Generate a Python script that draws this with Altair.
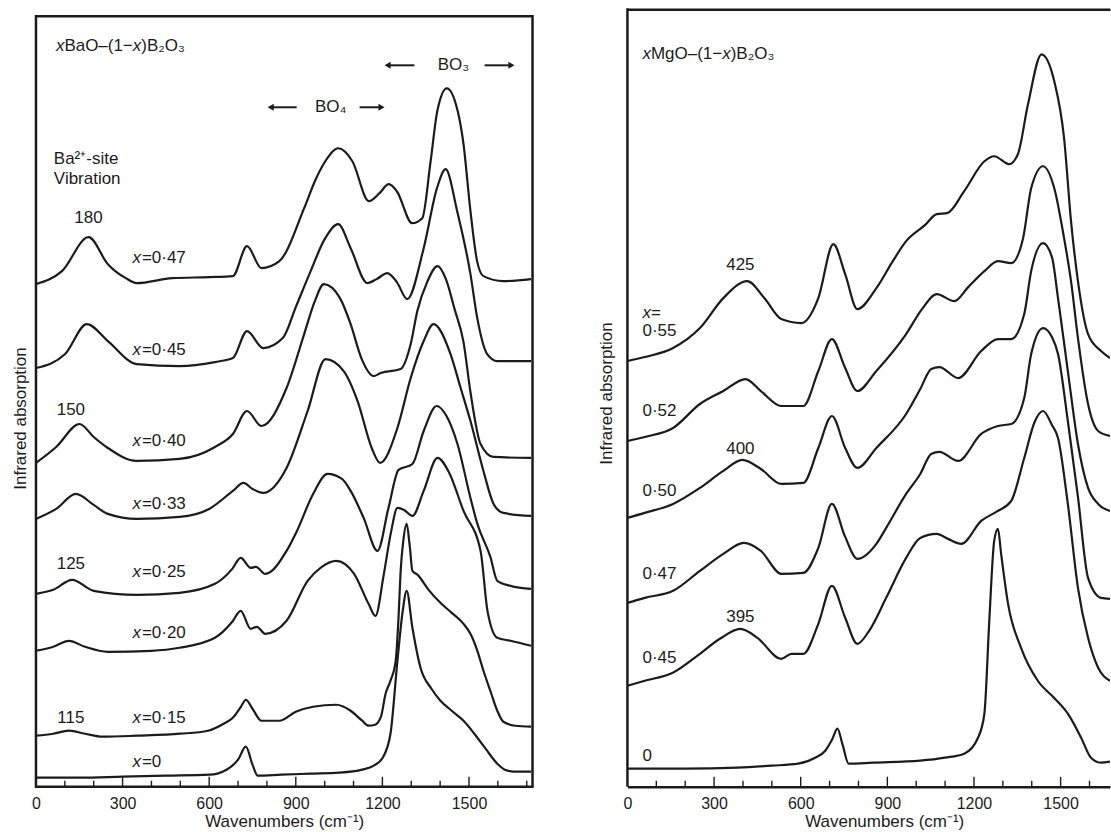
import altair as alt
import pandas as pd

FONT = "Liberation Sans"
INK = "#1b1b1b"
FS = 17
LFS = 16
TFS = 17

# ---------------- Left panel: xBaO-(1-x)B2O3 (stacked IR spectra, arbitrary units) ----------------
BA_X0_WN = [0, 150, 300, 450, 600, 660, 700, 727, 750, 768, 850, 950, 1050, 1130, 1170, 1201, 1228, 1252, 1270, 1284, 1304, 1332, 1370, 1401, 1440, 1481, 1529, 1560, 1598, 1633, 1670, 1715]
BA_X0_A = [9, 9, 10, 11, 12, 17, 27, 40, 22, 11, 12, 13, 14, 17, 21, 29, 53, 126, 175, 196, 159, 119, 98, 86, 76, 66, 49, 37, 23, 16, 15, 15]

BA_X15_WN = [0, 60, 114, 170, 230, 350, 500, 596, 650, 682, 710, 727, 750, 781, 843, 900, 960, 1040, 1090, 1130, 1152, 1175, 1195, 1211, 1228, 1246, 1256, 1263, 1272, 1284, 1295, 1304, 1322, 1360, 1401, 1440, 1481, 1505, 1530, 1550, 1575, 1598, 1619, 1660, 1715]
BA_X15_A = [51, 53, 56, 53, 50, 51, 53, 56, 63, 69, 80, 87, 78, 66, 66, 75, 80, 82, 76, 66, 61, 62, 70, 93, 106, 126, 170, 215, 245, 263, 240, 216, 212, 197, 184, 174, 163, 153, 135, 116, 95, 76, 65, 61, 60]

BA_X20_WN = [0, 60, 114, 170, 249, 400, 497, 620, 680, 709, 744, 765, 794, 868, 941, 990, 1040, 1102, 1152, 1176, 1204, 1230, 1252, 1275, 1304, 1343, 1391, 1430, 1481, 1540, 1564, 1598, 1644, 1715]
BA_X20_A = [136, 140, 146, 140, 135, 136, 139, 149, 165, 176, 158, 160, 153, 166, 206, 220, 226, 213, 183, 171, 211, 255, 279, 277, 271, 296, 329, 315, 276, 236, 176, 149, 146, 141]

BA_X25_WN = [0, 60, 125, 200, 349, 497, 620, 680, 709, 744, 762, 794, 868, 904, 960, 1010, 1060, 1090, 1135, 1183, 1221, 1256, 1304, 1343, 1388, 1420, 1460, 1505, 1529, 1574, 1598, 1644, 1715]
BA_X25_A = [193, 197, 207, 196, 192, 194, 203, 218, 229, 219, 220, 213, 236, 256, 293, 313, 308, 296, 269, 236, 279, 317, 323, 356, 381, 372, 343, 289, 263, 230, 206, 201, 198]

BA_X33_WN = [0, 70, 138, 200, 249, 349, 497, 600, 682, 719, 750, 787, 868, 941, 1003, 1066, 1114, 1163, 1192, 1252, 1298, 1343, 1377, 1436, 1470, 1505, 1550, 1585, 1619, 1715]
BA_X33_A = [268, 278, 293, 282, 273, 268, 270, 278, 296, 304, 298, 294, 319, 376, 428, 416, 386, 339, 324, 359, 409, 446, 463, 433, 400, 366, 316, 283, 274, 271]

BA_X40_WN = [0, 70, 151, 200, 249, 349, 497, 620, 682, 731, 781, 868, 929, 966, 997, 1053, 1090, 1127, 1170, 1194, 1263, 1298, 1321, 1355, 1391, 1420, 1450, 1481, 1505, 1540, 1585, 1715]
BA_X40_A = [324, 340, 363, 350, 339, 326, 328, 340, 353, 376, 361, 399, 453, 486, 503, 489, 463, 429, 411, 414, 418, 443, 476, 505, 521, 508, 478, 445, 395, 343, 330, 329]

BA_X45_WN = [0, 101, 176, 249, 349, 497, 620, 682, 731, 787, 855, 900, 950, 1000, 1047, 1090, 1148, 1180, 1217, 1250, 1286, 1343, 1390, 1419, 1459, 1505, 1528, 1563, 1598, 1715]
BA_X45_A = [419, 433, 463, 446, 423, 421, 425, 429, 456, 439, 449, 480, 515, 548, 563, 539, 504, 508, 514, 505, 488, 539, 600, 618, 576, 513, 470, 433, 426, 426]

BA_X47_WN = [0, 90, 182, 249, 311, 349, 472, 600, 682, 731, 781, 843, 929, 966, 1000, 1047, 1096, 1153, 1190, 1222, 1250, 1303, 1338, 1367, 1390, 1423, 1461, 1481, 1505, 1528, 1550, 1619, 1715]
BA_X47_A = [503, 516, 550, 523, 509, 504, 509, 510, 511, 541, 519, 526, 579, 606, 625, 639, 626, 586, 594, 603, 596, 564, 569, 626, 676, 699, 676, 643, 576, 526, 511, 506, 508]

BA_SERIES = [
    ("0", BA_X0_WN, BA_X0_A), ("0.15", BA_X15_WN, BA_X15_A), ("0.20", BA_X20_WN, BA_X20_A),
    ("0.25", BA_X25_WN, BA_X25_A), ("0.33", BA_X33_WN, BA_X33_A), ("0.40", BA_X40_WN, BA_X40_A),
    ("0.45", BA_X45_WN, BA_X45_A), ("0.47", BA_X47_WN, BA_X47_A),
]

# ---------------- Right panel: xMgO-(1-x)B2O3 ----------------
MG_X0_WN = [0, 200, 381, 500, 591, 650, 685, 710, 727, 745, 766, 850, 1014, 1100, 1166, 1214, 1236, 1253, 1270, 1283, 1294, 1318, 1363, 1421, 1477, 1525, 1571, 1605, 1640, 1671]
MG_X0_A = [18, 18, 19, 21, 23, 29, 36, 48, 58, 42, 23, 24, 26, 29, 33, 49, 73, 166, 246, 258, 233, 183, 139, 106, 89, 73, 49, 29, 24, 25]

MG_X45_WN = [0, 60, 157, 251, 320, 391, 450, 532, 568, 609, 661, 708, 754, 796, 837, 896, 965, 1014, 1071, 1110, 1156, 1225, 1283, 1329, 1374, 1410, 1439, 1470, 1491, 1525, 1560, 1595, 1630, 1671]
MG_X45_A = [101, 106, 114, 133, 148, 158, 149, 128, 133, 133, 163, 201, 169, 143, 156, 189, 229, 249, 253, 248, 243, 266, 276, 286, 329, 365, 376, 362, 349, 283, 199, 149, 119, 106]

MG_X47_WN = [0, 60, 158, 251, 332, 403, 462, 533, 609, 661, 708, 754, 796, 862, 896, 965, 1014, 1052, 1080, 1145, 1225, 1283, 1329, 1374, 1398, 1439, 1470, 1491, 1525, 1560, 1595, 1640, 1671]
MG_X47_A = [184, 189, 196, 216, 233, 244, 236, 213, 214, 239, 283, 250, 228, 243, 259, 293, 313, 333, 335, 326, 353, 361, 363, 389, 433, 459, 450, 433, 366, 290, 209, 189, 188]

MG_X50_WN = [0, 60, 158, 251, 332, 398, 462, 533, 609, 661, 708, 754, 796, 862, 965, 1014, 1052, 1080, 1145, 1225, 1283, 1329, 1374, 1398, 1439, 1470, 1491, 1525, 1560, 1595, 1630, 1671]
MG_X50_A = [269, 274, 283, 299, 316, 327, 318, 303, 304, 339, 371, 339, 319, 339, 373, 398, 418, 420, 409, 436, 448, 448, 473, 516, 544, 530, 489, 416, 343, 299, 283, 276]

MG_X52_WN = [0, 60, 158, 251, 332, 409, 462, 533, 609, 661, 708, 754, 796, 862, 965, 1020, 1071, 1132, 1180, 1236, 1283, 1329, 1370, 1398, 1439, 1478, 1512, 1536, 1560, 1595, 1630, 1671]
MG_X52_A = [346, 350, 359, 383, 396, 408, 396, 381, 381, 416, 448, 419, 396, 416, 453, 478, 493, 486, 500, 516, 526, 524, 549, 599, 621, 599, 549, 506, 449, 383, 356, 351]

MG_X55_WN = [0, 60, 158, 251, 332, 415, 474, 533, 602, 661, 713, 754, 796, 862, 919, 965, 1030, 1071, 1107, 1166, 1236, 1270, 1322, 1352, 1387, 1434, 1478, 1512, 1536, 1560, 1595, 1640, 1671]
MG_X55_A = [426, 430, 439, 459, 489, 506, 489, 468, 464, 489, 543, 513, 478, 499, 526, 546, 562, 573, 574, 596, 626, 631, 623, 633, 683, 733, 706, 649, 566, 506, 453, 436, 429]

MG_SERIES = [
    ("0", MG_X0_WN, MG_X0_A), ("0.45", MG_X45_WN, MG_X45_A), ("0.47", MG_X47_WN, MG_X47_A),
    ("0.50", MG_X50_WN, MG_X50_A), ("0.52", MG_X52_WN, MG_X52_A), ("0.55", MG_X55_WN, MG_X55_A),
]

# ---------------- Axis ticks and annotation text ----------------
TICK_LABELS = [0, 300, 600, 900, 1200, 1500]
MAJOR_TICKS = [300, 600, 900, 1200, 1500]
MINOR_TICKS = [100, 200, 400, 500, 700, 800, 1000, 1100, 1300, 1400, 1600, 1700]

BA_PEAK_TEXT = ["180", "150", "125", "115"]
BA_PEAK_WN = [182, 121, 121, 121]
BA_PEAK_A = [569, 377, 223, 69]
BA_COMP_TEXT = ["=0·47", "=0·45", "=0·40", "=0·33", "=0·25", "=0·20", "=0·15", "=0"]
BA_COMP_A = [529, 437, 346, 283, 215, 154, 69, 25]
BA_COMP_WN = 367
BA_BAND_TEXT = ["BO₄", "BO₃"]
BA_BAND_WN = [1021, 1446]
BA_BAND_A = [680, 722]
BA_NOTE_TEXT = ["Ba²⁺-site", "Vibration"]
BA_NOTE_A = [628, 608]
BA_NOTE_WN = 62
BA_ARROW_TAIL = [903, 1121, 1311, 1554]
BA_ARROW_HEAD = [813, 1197, 1218, 1647]
BA_ARROW_A = [680, 680, 722, 722]

MG_PEAK_TEXT = ["425", "400", "395"]
MG_PEAK_WN = [391, 391, 391]
MG_PEAK_A = [522, 338, 170]
MG_COMP_TEXT = ["0·55", "0·52", "0·50", "0·47", "0·45", "0"]
MG_COMP_A = [456, 376, 296, 213, 129, 31]
MG_COMP_WN = 52
MG_XEQ_A = 474


def long_df(series):
    rows = []
    for name, wn, a in series:
        for w, v in zip(wn, a):
            rows.append({"series": name, "wn": w, "a": v})
    return pd.DataFrame(rows)


def y_axis(pad, title_y):
    return alt.Axis(title="Infrared absorption", labels=False, ticks=False, grid=False, domain=False,
                    titleFont=FONT, titleFontSize=TFS, titleFontWeight="normal",
                    titleColor=INK, titlePadding=pad, titleY=title_y)


def x_axis(domain, title_x=None):
    kw = {}
    if title_x is not None:
        kw["titleX"] = title_x
    return alt.Axis(orient="bottom", title="Wavenumbers (cm⁻¹)", values=TICK_LABELS, format="d",
                    ticks=False, grid=False, domain=domain, domainColor=INK, domainWidth=2.5,
                    labelFont=FONT, labelFontSize=LFS, labelColor=INK, labelPadding=9, labelFlush=False,
                    titleFont=FONT, titleFontSize=TFS, titleFontWeight="normal", titleColor=INK,
                    titlePadding=2, **kw)


def texts(df, xs, ys, **kw):
    return alt.Chart(df).mark_text(font=FONT, fontSize=FS, color=INK, baseline="middle", **kw).encode(
        x=alt.X("wn:Q", scale=xs, axis=None), y=alt.Y("a:Q", scale=ys, axis=None), text="text:N")


def formula(xs, ys, wn, a, parts):
    layers = []
    for txt, dx, italic in parts:
        df = pd.DataFrame({"wn": [wn], "a": [a], "text": [txt]})
        kw = {"fontStyle": "italic"} if italic else {}
        layers.append(texts(df, xs, ys, align="left", dx=dx, **kw))
    return layers


def tick_layers(xs, H, top_axis):
    major = alt.Chart(pd.DataFrame({"t": MAJOR_TICKS})).mark_rule(color=INK, strokeWidth=1.4, clip=True).encode(
        x=alt.X("t:Q", scale=xs, axis=top_axis), y=alt.value(H), y2=alt.value(H - 10))
    minor = alt.Chart(pd.DataFrame({"t": MINOR_TICKS})).mark_rule(color=INK, strokeWidth=1.4, clip=True).encode(
        x=alt.X("t:Q", scale=xs, axis=None), y=alt.value(H), y2=alt.value(H - 6))
    return [major, minor]


# ---------------- Left panel ----------------
LW, LH = 497, 771
lxs = alt.Scale(domain=[0, 1720], nice=False, zero=False)
lys = alt.Scale(domain=[0, LH], nice=False, zero=False)

left_curves = alt.Chart(long_df(BA_SERIES)).mark_line(
    interpolate="monotone", color=INK, strokeWidth=2.2, clip=True).encode(
    x=alt.X("wn:Q", scale=lxs, axis=x_axis(False)),
    y=alt.Y("a:Q", scale=lys, axis=y_axis(6, 402)),
    detail="series:N")

spacer_axis = alt.Axis(orient="top", labels=False, domain=False, ticks=True, tickSize=7,
                       tickOpacity=0, values=[0], title=None, grid=False)

left_layers = [left_curves] + tick_layers(lxs, LH, spacer_axis)
left_layers.append(texts(pd.DataFrame({"wn": BA_PEAK_WN, "a": BA_PEAK_A, "text": BA_PEAK_TEXT}), lxs, lys, align="center"))
left_layers.append(texts(pd.DataFrame({"wn": [BA_COMP_WN] * len(BA_COMP_A), "a": BA_COMP_A, "text": ["x"] * len(BA_COMP_A)}),
                         lxs, lys, align="right", fontStyle="italic", dx=-1))
left_layers.append(texts(pd.DataFrame({"wn": [BA_COMP_WN] * len(BA_COMP_A), "a": BA_COMP_A, "text": BA_COMP_TEXT}),
                         lxs, lys, align="left"))
left_layers.append(texts(pd.DataFrame({"wn": BA_BAND_WN, "a": BA_BAND_A, "text": BA_BAND_TEXT}), lxs, lys, align="center"))
left_layers.append(texts(pd.DataFrame({"wn": [BA_NOTE_WN] * 2, "a": BA_NOTE_A, "text": BA_NOTE_TEXT}), lxs, lys, align="left"))
left_layers += formula(lxs, lys, 69, 741, [("x", 0, True), ("BaO–(1−", 8.5, False), ("x", 77, True), (")B₂O₃", 85.5, False)])

arrow_df = pd.DataFrame({"tail": BA_ARROW_TAIL, "head": BA_ARROW_HEAD, "a": BA_ARROW_A})
left_layers.append(alt.Chart(arrow_df).mark_rule(color=INK, strokeWidth=2).encode(
    x=alt.X("tail:Q", scale=lxs, axis=None), x2="head:Q", y=alt.Y("a:Q", scale=lys, axis=None)))
left_layers.append(alt.Chart(arrow_df.iloc[[0, 2]]).mark_point(shape="triangle-left", filled=True, size=50, color=INK, opacity=1).encode(
    x=alt.X("head:Q", scale=lxs, axis=None), y=alt.Y("a:Q", scale=lys, axis=None)))
left_layers.append(alt.Chart(arrow_df.iloc[[1, 3]]).mark_point(shape="triangle-right", filled=True, size=50, color=INK, opacity=1).encode(
    x=alt.X("head:Q", scale=lxs, axis=None), y=alt.Y("a:Q", scale=lys, axis=None)))

left = alt.layer(*left_layers).resolve_axis(x="independent", y="independent").properties(
    width=LW, height=LH, view=alt.ViewBackground(stroke=INK, strokeWidth=2.5))

# ---------------- Right panel (frame top sits 7px above the plot area, the figure is cropped on the right) ----------------
RW, RH = 483, 771
rxs = alt.Scale(domain=[0, 1671], nice=False, zero=False)
rys = alt.Scale(domain=[0, RH], nice=False, zero=False)

right_curves = alt.Chart(long_df(MG_SERIES)).mark_line(
    interpolate="monotone", color=INK, strokeWidth=2.2, clip=True).encode(
    x=alt.X("wn:Q", scale=rxs, axis=x_axis(True, 257)),
    y=alt.Y("a:Q", scale=rys, axis=y_axis(12, 377)),
    detail="series:N")

frame_top = alt.Axis(orient="top", labels=False, ticks=False, domain=True, domainColor=INK,
                     domainWidth=2.5, title=None, grid=False, offset=7)

right_layers = [right_curves] + tick_layers(rxs, RH, frame_top)
right_layers.append(alt.Chart(pd.DataFrame({"edge": [0]})).mark_rule(color=INK, strokeWidth=2.5).encode(
    x=alt.value(0), y=alt.value(-8), y2=alt.value(RH)))
right_layers.append(texts(pd.DataFrame({"wn": MG_PEAK_WN, "a": MG_PEAK_A, "text": MG_PEAK_TEXT}), rxs, rys, align="center"))
right_layers.append(texts(pd.DataFrame({"wn": [MG_COMP_WN] * len(MG_COMP_A), "a": MG_COMP_A, "text": MG_COMP_TEXT}),
                          rxs, rys, align="left"))
right_layers += formula(rxs, rys, MG_COMP_WN, MG_XEQ_A, [("x", 0, True), ("=", 8.5, False)])
right_layers += formula(rxs, rys, 52, 733, [("x", 0, True), ("MgO–(1−", 8.5, False), ("x", 79.8, True), (")B₂O₃", 88.3, False)])

right = alt.layer(*right_layers).resolve_axis(x="independent", y="independent").properties(
    width=RW, height=RH, view=alt.ViewBackground(stroke="transparent"))

chart = alt.concat(left, right, columns=2, spacing=62, align="none").properties(
    padding={"left": 10, "top": 6, "right": 0, "bottom": 0}, background="white")

chart.save("out.html", embed_options={"renderer": "svg", "actions": False})
